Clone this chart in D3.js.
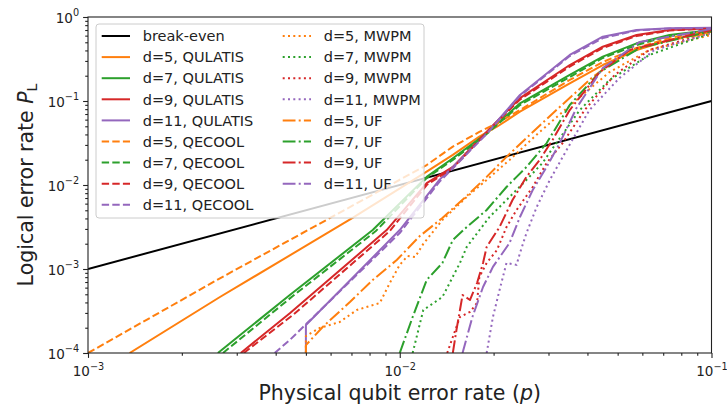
<!DOCTYPE html>
<html>
<head>
<meta charset="utf-8">
<script src="https://cdn.jsdelivr.net/npm/d3@7"></script>
<style>
  body { margin: 0; background: #fff; }
  text { font-family: "DejaVu Sans", sans-serif; fill: #222; }
</style>
</head>
<body>
<svg id="chart" width="727" height="405"></svg>
<script>
// each series: [p, P_L] pairs
const breakEven = [[1e-3, 1e-3], [1e-1, 1e-1]];

const qulatisD5 = [[1.36e-3,1.0e-4],[2.65e-3,4.64e-4],[7.06e-3,4.05e-3],[1.22e-2,1.44e-2],[1.48e-2,2.28e-2],[1.80e-2,3.76e-2],[2.05e-2,4.94e-2],[2.43e-2,7.46e-2],[3.51e-2,0.162],[4.48e-2,0.268],[5.75e-2,0.405],[7.33e-2,0.532],[0.1,0.668]];
const qulatisD7 = [[2.61e-3,1e-4],[4.44e-3,4.90e-4],[8.19e-3,2.91e-3],[1.22e-2,1.25e-2],[1.48e-2,2.08e-2],[1.90e-2,4.13e-2],[2.43e-2,9.39e-2],[3.51e-2,0.204],[4.48e-2,0.337],[5.75e-2,0.486],[7.33e-2,0.611],[0.1,0.700]];
const qulatisD9 = [[3.09e-3,1e-4],[4.44e-3,2.97e-4],[9.08e-3,2.91e-3],[1.22e-2,1.05e-2],[1.48e-2,1.64e-2],[1.97e-2,4.94e-2],[2.43e-2,0.108],[3.51e-2,0.268],[4.48e-2,0.443],[5.75e-2,0.611],[7.33e-2,0.700],[0.1,0.733]];
const qulatisD11 = [[5.0e-3,1e-4],[5.0e-3,2.15e-4],[1.0e-2,2.91e-3],[1.34e-2,1.15e-2],[1.56e-2,1.99e-2],[1.90e-2,4.13e-2],[2.43e-2,0.118],[3.51e-2,0.353],[4.48e-2,0.582],[5.75e-2,0.700],[7.33e-2,0.733],[0.1,0.746]];

const qecoolD5 = [[1e-3,1e-4],[2.65e-3,7.75e-4],[1.22e-2,1.73e-2],[1.48e-2,2.86e-2],[1.80e-2,4.28e-2],[2.05e-2,5.43e-2],[2.43e-2,7.81e-2],[3.51e-2,0.178],[4.48e-2,0.291],[5.75e-2,0.428],[7.33e-2,0.562],[0.1,0.700]];
const qecoolD7 = [[2.71e-3,1e-4],[4.54e-3,4.77e-4],[8.38e-3,2.83e-3],[1.22e-2,1.21e-2],[1.48e-2,1.99e-2],[1.90e-2,4.05e-2],[2.43e-2,8.96e-2],[3.51e-2,0.193],[4.48e-2,0.325],[5.75e-2,0.464],[7.33e-2,0.594],[0.1,0.691]];
const qecoolD9 = [[3.16e-3,1e-4],[4.54e-3,2.83e-4],[9.29e-3,2.83e-3],[1.22e-2,1.0e-2],[1.48e-2,1.59e-2],[1.97e-2,4.84e-2],[2.43e-2,0.104],[3.51e-2,0.257],[4.48e-2,0.428],[5.75e-2,0.594],[7.33e-2,0.691],[0.1,0.730]];
const qecoolD11 = [[3.97e-3,1e-4],[4.44e-3,1.43e-4],[1.0e-2,2.68e-3],[1.34e-2,1.09e-2],[1.56e-2,1.93e-2],[1.90e-2,4.05e-2],[2.43e-2,0.115],[3.51e-2,0.343],[4.48e-2,0.562],[5.75e-2,0.691],[7.33e-2,0.730],[0.1,0.740]];

const mwpmD5 = [[5.0e-3,1e-4],[5.0e-3,1.59e-4],[5.54e-3,1.99e-4],[6.42e-3,2.34e-4],[7.28e-3,3.25e-4],[8.63e-3,3.94e-4],[9.29e-3,6.81e-4],[1.0e-2,1.12e-3],[1.06e-2,1.43e-3],[1.12e-2,1.39e-3],[1.19e-2,1.99e-3],[1.37e-2,3.83e-3],[1.64e-2,7.20e-3],[1.90e-2,1.15e-2],[2.25e-2,1.99e-2],[2.81e-2,4.28e-2],[3.69e-2,0.103],[4.71e-2,0.221],[6.32e-2,0.405],[0.1,0.611]];
const mwpmD7 = [[1.10e-2,1e-4],[1.19e-2,3.25e-4],[1.37e-2,4.64e-4],[1.56e-2,1.18e-3],[1.64e-2,1.83e-3],[1.94e-2,4.16e-3],[2.25e-2,7.20e-3],[2.55e-2,1.15e-2],[2.87e-2,1.83e-2],[3.18e-2,3.16e-2],[3.78e-2,7.81e-2],[4.71e-2,0.178],[6.32e-2,0.353],[0.1,0.645]];
const mwpmD9 = [[1.42e-2,1e-4],[1.48e-2,1.55e-4],[1.56e-2,2.68e-4],[1.68e-2,3.08e-4],[1.77e-2,3.94e-4],[1.80e-2,8.03e-4],[1.90e-2,1.18e-3],[2.05e-2,1.68e-3],[2.20e-2,3.16e-3],[2.37e-2,5.04e-3],[2.67e-2,9.47e-3],[2.96e-2,1.83e-2],[3.33e-2,3.16e-2],[3.92e-2,7.81e-2],[4.89e-2,0.204],[6.32e-2,0.405],[0.1,0.663]];
const mwpmD11 = [[1.90e-2,1e-4],[1.99e-2,2.68e-4],[2.09e-2,5.62e-4],[2.20e-2,1.18e-3],[2.37e-2,1.12e-3],[2.43e-2,1.55e-3],[2.55e-2,2.68e-3],[2.75e-2,5.47e-3],[3.03e-2,1.15e-2],[3.43e-2,2.61e-2],[4.06e-2,7.81e-2],[5.07e-2,0.188],[6.56e-2,0.405],[0.1,0.645]];

const ufD5 = [[5.0e-3,1e-4],[5.0e-3,1.24e-4],[5.66e-3,2.04e-4],[6.92e-3,4.05e-4],[8.19e-3,7.40e-4],[9.78e-3,1.28e-3],[1.16e-2,2.47e-3],[1.37e-2,4.05e-3],[1.64e-2,7.40e-3],[1.90e-2,1.25e-2],[2.20e-2,2.16e-2],[2.61e-2,3.94e-2],[3.26e-2,8.49e-2],[4.16e-2,0.193],[5.34e-2,0.373],[6.81e-2,0.504],[0.1,0.645]];
const ufD7 = [[1.0e-2,1e-4],[1.10e-2,2.68e-4],[1.22e-2,7.40e-4],[1.37e-2,1.18e-3],[1.48e-2,2.21e-3],[1.64e-2,3.16e-3],[1.90e-2,5.04e-3],[2.20e-2,9.47e-3],[2.37e-2,1.25e-2],[2.55e-2,1.64e-2],[2.96e-2,3.16e-2],[3.51e-2,8.96e-2],[4.38e-2,0.221],[5.88e-2,0.428],[0.1,0.681]];
const ufD9 = [[1.48e-2,1e-4],[1.52e-2,1.88e-4],[1.56e-2,3.25e-4],[1.59e-2,4.90e-4],[1.68e-2,4.28e-4],[1.77e-2,6.81e-4],[1.85e-2,1.18e-3],[1.90e-2,1.83e-3],[2.09e-2,3.16e-3],[2.30e-2,6.63e-3],[2.55e-2,1.25e-2],[2.81e-2,1.99e-2],[3.09e-2,3.43e-2],[3.51e-2,7.81e-2],[4.38e-2,0.221],[5.46e-2,0.405],[0.1,0.700]];
const ufD11 = [[1.59e-2,1e-4],[1.71e-2,2.68e-4],[1.85e-2,6.11e-4],[1.99e-2,1.06e-3],[2.25e-2,2.04e-3],[2.43e-2,4.16e-3],[2.67e-2,8.71e-3],[2.96e-2,1.64e-2],[3.26e-2,3.16e-2],[3.69e-2,8.26e-2],[4.48e-2,0.247],[5.88e-2,0.504],[0.1,0.720]];

const xTicks = [1e-3, 1e-2, 1e-1];
const yTicks = [1e-4, 1e-3, 1e-2, 1e-1, 1];

const colors = {5: "#ff7f0e", 7: "#2ca02c", 9: "#d62728", 11: "#9467bd"};
const dashes = {solid: null, dashed: "7.4,3.2", dotted: "2,3.3", dashdot: "12.8,3.2,2,3.2"};

const series = [
    {label: "break-even", data: breakEven, color: "#000", dash: dashes.solid},
    {label: "d=5, QULATIS", data: qulatisD5, color: colors[5], dash: dashes.solid},
    {label: "d=7, QULATIS", data: qulatisD7, color: colors[7], dash: dashes.solid},
    {label: "d=9, QULATIS", data: qulatisD9, color: colors[9], dash: dashes.solid},
    {label: "d=11, QULATIS", data: qulatisD11, color: colors[11], dash: dashes.solid},
    {label: "d=5, QECOOL", data: qecoolD5, color: colors[5], dash: dashes.dashed},
    {label: "d=7, QECOOL", data: qecoolD7, color: colors[7], dash: dashes.dashed},
    {label: "d=9, QECOOL", data: qecoolD9, color: colors[9], dash: dashes.dashed},
    {label: "d=11, QECOOL", data: qecoolD11, color: colors[11], dash: dashes.dashed},
    {label: "d=5, MWPM", data: mwpmD5, color: colors[5], dash: dashes.dotted},
    {label: "d=7, MWPM", data: mwpmD7, color: colors[7], dash: dashes.dotted},
    {label: "d=9, MWPM", data: mwpmD9, color: colors[9], dash: dashes.dotted},
    {label: "d=11, MWPM", data: mwpmD11, color: colors[11], dash: dashes.dotted},
    {label: "d=5, UF", data: ufD5, color: colors[5], dash: dashes.dashdot},
    {label: "d=7, UF", data: ufD7, color: colors[7], dash: dashes.dashdot},
    {label: "d=9, UF", data: ufD9, color: colors[9], dash: dashes.dashdot},
    {label: "d=11, UF", data: ufD11, color: colors[11], dash: dashes.dashdot}
];

const margin = {left: 88, right: 15.5, top: 17, bottom: 52};
const width = 727, height = 405;

const svg = d3.select("#chart");

const x = d3.scaleLog().domain([1e-3, 1e-1]).range([margin.left, width - margin.right]);
const y = d3.scaleLog().domain([1e-4, 1]).range([height - margin.bottom, margin.top]);

svg.append("clipPath").attr("id", "plot-clip")
    .append("rect")
    .attr("x", x.range()[0]).attr("y", y.range()[1])
    .attr("width", x.range()[1] - x.range()[0])
    .attr("height", y.range()[0] - y.range()[1]);

const minorTicks = (scale) => {
    const [a, b] = scale.domain();
    const out = [];
    for (let e = Math.floor(Math.log10(a)); e < Math.ceil(Math.log10(b)); e++) {
        for (let m = 2; m <= 9; m++) {
            const v = m * Math.pow(10, e);
            if (v > a && v < b) out.push(v);
        }
    }
    return out;
};

const supLabel = (text, v) => {
    const e = Math.round(Math.log10(v));
    text.text(null);
    text.append("tspan").text("10");
    text.append("tspan")
        .attr("dy", -6.5)
        .attr("font-size", 9.7)
        .text(e < 0 ? "\u2212" + (-e) : String(e));
};

// x axis
const xAxisG = svg.append("g")
    .attr("transform", `translate(0,${y.range()[0]})`);
xAxisG.append("g")
    .call(d3.axisBottom(x).tickValues(minorTicks(x)).tickSize(2.8).tickFormat(""))
    .call(g => g.select(".domain").remove());
xAxisG.append("g")
    .call(d3.axisBottom(x).tickValues(xTicks).tickSize(4.9).tickPadding(5.5))
    .call(g => g.select(".domain").remove())
    .call(g => g.selectAll(".tick text")
        .attr("font-size", 13.5)
        .attr("dy", "0.95em")
        .each(function(d) { supLabel(d3.select(this), d); }));

// y axis
const yAxisG = svg.append("g")
    .attr("transform", `translate(${x.range()[0]},0)`);
yAxisG.append("g")
    .call(d3.axisLeft(y).tickValues(minorTicks(y)).tickSize(2.8).tickFormat(""))
    .call(g => g.select(".domain").remove());
yAxisG.append("g")
    .call(d3.axisLeft(y).tickValues(yTicks).tickSize(4.9).tickPadding(4))
    .call(g => g.select(".domain").remove())
    .call(g => g.selectAll(".tick text")
        .attr("font-size", 13.5)
        .attr("dy", "0.4em")
        .each(function(d) { supLabel(d3.select(this), d); }));

svg.selectAll(".tick line").attr("stroke", "#222").attr("stroke-width", 1.1);
svg.selectAll(".tick text").attr("fill", "#222").attr("font-family", "DejaVu Sans, sans-serif");

// curves
const line = d3.line().x(d => x(d[0])).y(d => y(d[1]));

svg.append("g").attr("clip-path", "url(#plot-clip)")
    .selectAll("path")
    .data(series)
    .join("path")
        .attr("d", d => line(d.data))
        .attr("fill", "none")
        .attr("stroke", d => d.color)
        .attr("stroke-width", 2)
        .attr("stroke-dasharray", d => d.dash)
        .attr("stroke-linejoin", "round");

// frame
svg.append("rect")
    .attr("x", x.range()[0]).attr("y", y.range()[1])
    .attr("width", x.range()[1] - x.range()[0])
    .attr("height", y.range()[0] - y.range()[1])
    .attr("fill", "none")
    .attr("stroke", "#222")
    .attr("stroke-width", 1.1);

// axis labels
svg.append("text")
    .attr("x", (x.range()[0] + x.range()[1]) / 2)
    .attr("y", 399.5)
    .attr("text-anchor", "middle")
    .attr("font-size", 20.5)
    .call(t => {
        t.append("tspan").text("Physical qubit error rate (");
        t.append("tspan").attr("font-style", "italic").text("p");
        t.append("tspan").text(")");
    });

svg.append("text")
    .attr("transform", `translate(33,${(y.range()[0] + y.range()[1]) / 2}) rotate(-90)`)
    .attr("text-anchor", "middle")
    .attr("font-size", 20.5)
    .call(t => {
        t.append("tspan").text("Logical error rate ");
        t.append("tspan").attr("font-style", "italic").text("P");
        t.append("tspan").attr("font-size", 14).attr("dy", 4).text("L");
    });

// legend
const legend = svg.append("g");
legend.append("rect")
    .attr("x", 96).attr("y", 24)
    .attr("width", 328).attr("height", 194)
    .attr("rx", 3)
    .attr("fill", "#fff").attr("fill-opacity", 0.8)
    .attr("stroke", "#cccccc").attr("stroke-width", 1);

const rowsPerCol = 9;
const colX = [101.7, 282.7];
const rowStep = 21.1;

const items = legend.selectAll(".item")
    .data(series)
    .join("g")
    .attr("class", "item")
    .attr("transform", (d, i) => `translate(${colX[Math.floor(i / rowsPerCol)]},${36 + (i % rowsPerCol) * rowStep})`);

items.append("line")
    .attr("x1", 0).attr("x2", 28.3)
    .attr("stroke", d => d.color)
    .attr("stroke-width", 2)
    .attr("stroke-dasharray", d => d.dash);

items.append("text")
    .attr("x", 41)
    .attr("y", 5.2)
    .attr("font-size", 14.5)
    .text(d => d.label);
</script>
</body>
</html>
